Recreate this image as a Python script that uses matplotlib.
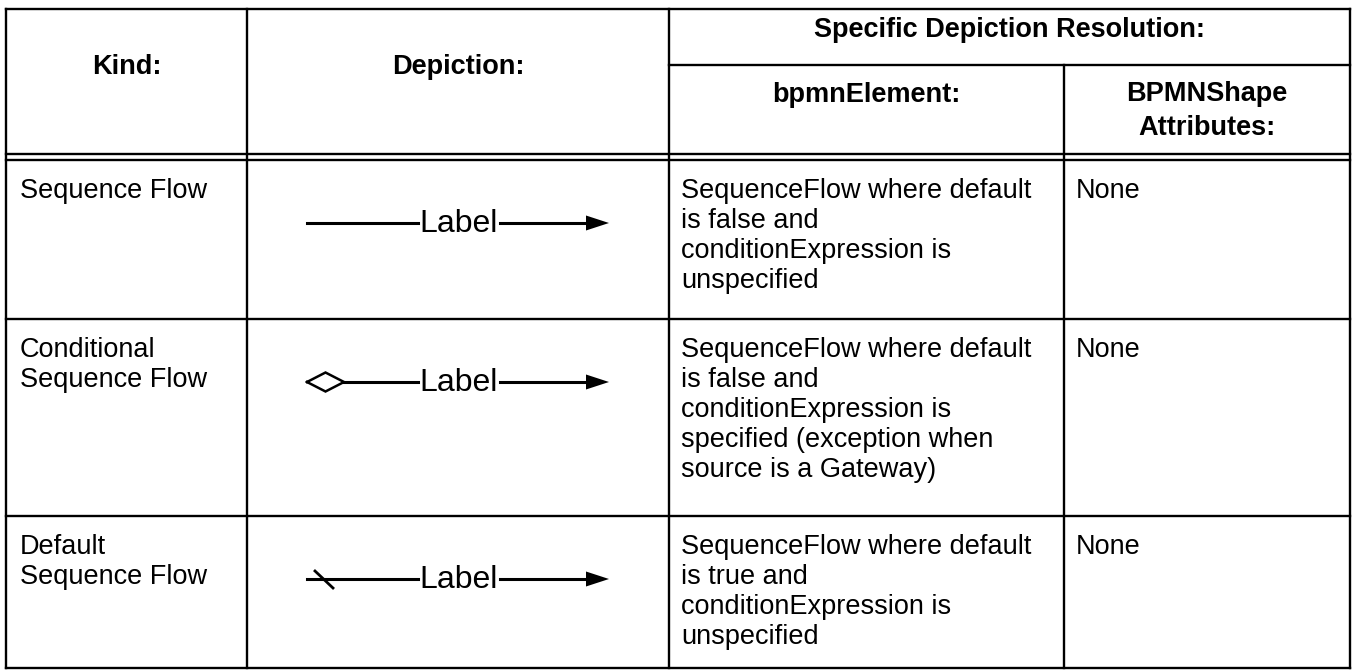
import numpy as np
import matplotlib.pyplot as plt

# table content
header_top = ['Kind:', 'Depiction:', 'Specific Depiction Resolution:']
header_sub = ['bpmnElement:', 'BPMNShape\nAttributes:']
kinds = ['Sequence Flow', 'Conditional\nSequence Flow', 'Default\nSequence Flow']
depiction_start = ['none', 'diamond', 'slash']
depiction_label = 'Label'
elements = [
    'SequenceFlow where default\nis false and\nconditionExpression is\nunspecified',
    'SequenceFlow where default\nis false and\nconditionExpression is\nspecified (exception when\nsource is a Gateway)',
    'SequenceFlow where default\nis true and\nconditionExpression is\nunspecified',
]
attributes = ['None', 'None', 'None']

W, H = 1354, 671
col_x = [6, 247, 669, 1064, 1350]
row_y = [9, 159, 319, 516, 668]   # top, header bottom, row bottoms
sub_y = 65
arrow_off = 63

font = 'Liberation Sans'
fs = 19.5
lh = 30

fig = plt.figure(figsize=(W / 100, H / 100), dpi=100)
ax = fig.add_axes([0, 0, 1, 1])
ax.set_xlim(0, W)
ax.set_ylim(H, 0)
ax.axis('off')

lw = 1.7
# frame + grid
ax.plot([col_x[0], col_x[-1]], [row_y[0], row_y[0]], 'k', lw=lw, solid_capstyle='projecting')
ax.plot([col_x[0], col_x[-1]], [row_y[-1], row_y[-1]], 'k', lw=lw, solid_capstyle='projecting')
for x in [col_x[0], col_x[1], col_x[2], col_x[4]]:
    ax.plot([x, x], [row_y[0], row_y[-1]], 'k', lw=lw, solid_capstyle='projecting')
ax.plot([col_x[3], col_x[3]], [sub_y, row_y[-1]], 'k', lw=lw)
ax.plot([col_x[2], col_x[4]], [sub_y, sub_y], 'k', lw=lw)
# double line under header
ax.plot([col_x[0], col_x[-1]], [154, 154], 'k', lw=lw)
ax.plot([col_x[0], col_x[-1]], [159.5, 159.5], 'k', lw=lw)
for y in row_y[2:4]:
    ax.plot([col_x[0], col_x[-1]], [y, y], 'k', lw=lw)

# header text
hk = dict(fontsize=fs, fontweight='bold', family=font, ha='center', va='center')
ax.text((col_x[0] + col_x[1]) / 2, 67, header_top[0], **hk)
ax.text((col_x[1] + col_x[2]) / 2, 67, header_top[1], **hk)
ax.text((col_x[2] + col_x[4]) / 2, 30, header_top[2], **hk)
ax.text((col_x[2] + col_x[3]) / 2, 95, header_sub[0], **hk)
ax.text((col_x[3] + col_x[4]) / 2, 111, header_sub[1], linespacing=1.4, **hk)


def cell_lines(x, top, txt):
    for i, line in enumerate(txt.split('\n')):
        ax.text(x, top + 38 + i * lh, line, fontsize=fs, family=font,
                ha='left', va='baseline')


def depiction(y, start):
    x0, x1 = 307, 609
    xl0, xl1 = 418, 500
    ax.text((xl0 + xl1) / 2, y + 1, depiction_label, fontsize=23, family=font,
            ha='center', va='center')
    lx0 = x0
    if start == 'diamond':
        dx = [307, 325.5, 344, 325.5, 307]
        dy = [y, y - 9.5, y, y + 9.5, y]
        ax.plot(dx, dy, 'k', lw=1.8, solid_joinstyle='miter')
        lx0 = 344
    ax.plot([lx0, xl0], [y, y], 'k', lw=2.2)
    ax.plot([xl1, 588], [y, y], 'k', lw=2.2)
    ax.fill([586, x1, 586], [y - 7.5, y, y + 7.5], 'k', lw=0)
    if start == 'slash':
        ax.plot([315, 333], [y - 8, y + 9], 'k', lw=2)


tops = [160, row_y[2], row_y[3]]
for i in range(len(kinds)):
    top = tops[i]
    cell_lines(col_x[0] + 14, top, kinds[i])
    cell_lines(col_x[2] + 12, top, elements[i])
    cell_lines(col_x[3] + 12, top, attributes[i])
    depiction(top + arrow_off, depiction_start[i])

fig.savefig('out.png', dpi=100, facecolor='white')
